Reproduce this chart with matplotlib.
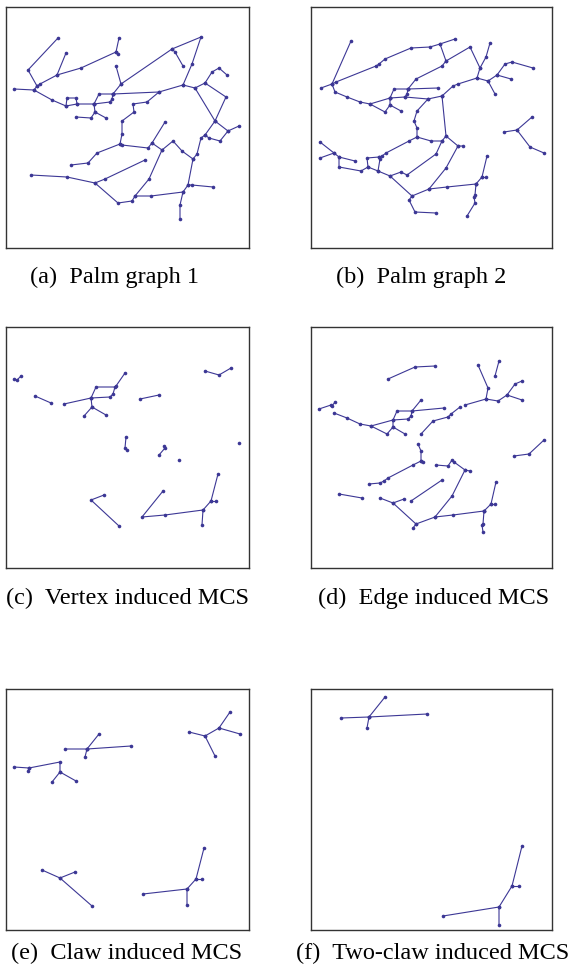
import matplotlib.pyplot as plt

# Graph layouts: each graph is a list of paths, consecutive points on a path
# are joined by an edge, every point is a vertex. Coordinates are layout units.
palm1 = [
    [(58, 38), (28, 70), (37, 86), (40, 84), (57, 75), (66, 53)],
    [(57, 75), (81, 68), (116, 52), (119, 38)],
    [(116, 52), (118, 54)],
    [(14, 89), (34, 90), (37, 86)],
    [(34, 90), (52, 100), (66, 106), (77, 104), (94, 104)],
    [(66, 106), (67, 98), (76, 98), (77, 104)],
    [(94, 104), (99, 94), (113, 94)],
    [(94, 104), (110, 102), (112, 99), (113, 94)],
    [(94, 104), (95, 112), (91, 118), (76, 117)],
    [(95, 112), (106, 118)],
    [(113, 94), (121, 84), (116, 66)],
    [(121, 84), (172, 49), (201, 37), (192, 64), (183, 85)],
    [(172, 49), (175, 52), (183, 66)],
    [(113, 94), (159, 92), (183, 85), (195, 88), (205, 83), (212, 72), (219, 68), (227, 75)],
    [(205, 83), (226, 97), (215, 121)],
    [(195, 88), (215, 121), (228, 131), (239, 126)],
    [(159, 92), (147, 102), (133, 104), (134, 112), (122, 121), (122, 134), (120, 144)],
    [(120, 144), (97, 153), (88, 163), (71, 165)],
    [(122, 145), (148, 148), (152, 143), (165, 122)],
    [(152, 143), (162, 150), (173, 141), (182, 151), (193, 159), (197, 154), (201, 138),
     (205, 135), (215, 121)],
    [(205, 135), (209, 138), (220, 141), (228, 131)],
    [(193, 159), (188, 185), (183, 192), (180, 205), (180, 219)],
    [(188, 185), (192, 185), (213, 187)],
    [(162, 150), (149, 179), (135, 196), (132, 201), (118, 203), (95, 183), (67, 177), (31, 175)],
    [(95, 183), (105, 179), (145, 160)],
    [(135, 196), (151, 196), (183, 192)],
]

palm2 = [
    [(351, 41), (332, 84), (321, 88)],
    [(332, 84), (336, 82), (376, 66), (379, 64), (385, 59), (411, 48), (430, 47), (440, 44), (455, 39)],
    [(440, 44), (446, 61), (470, 47), (480, 68), (486, 57), (490, 43)],
    [(446, 61), (442, 66), (416, 79), (408, 89)],
    [(332, 84), (335, 92), (347, 97), (360, 102), (370, 104), (390, 98)],
    [(370, 104), (385, 112), (390, 105), (390, 98)],
    [(390, 105), (401, 111)],
    [(390, 98), (394, 89), (408, 89), (438, 88)],
    [(408, 89), (407, 94), (405, 97)],
    [(390, 98), (405, 97), (428, 99), (442, 96)],
    [(442, 96), (453, 86), (458, 84), (477, 78), (488, 81), (497, 75), (505, 64), (512, 62), (533, 68)],
    [(497, 75), (511, 79)],
    [(488, 81), (495, 94)],
    [(477, 78), (480, 68)],
    [(428, 99), (417, 111), (414, 121), (417, 128), (417, 137), (431, 141), (442, 141), (446, 136),
     (442, 96)],
    [(446, 136), (458, 146), (463, 146)],
    [(417, 137), (409, 141), (386, 153), (382, 156), (379, 157), (367, 158), (368, 167), (378, 171),
     (380, 159), (379, 157)],
    [(368, 167), (361, 171), (339, 167), (339, 157), (334, 153), (320, 142)],
    [(339, 157), (355, 161)],
    [(334, 153), (320, 158)],
    [(378, 171), (390, 176), (401, 172), (407, 175), (436, 154), (442, 141)],
    [(390, 176), (412, 196), (429, 189), (447, 187), (476, 184)],
    [(412, 196), (409, 200), (415, 212), (436, 213)],
    [(429, 189), (446, 168), (458, 146)],
    [(476, 184), (482, 177), (487, 156)],
    [(482, 177), (486, 177)],
    [(476, 184), (475, 195), (474, 197), (475, 203), (467, 216)],
    [(532, 117), (517, 130), (504, 132)],
    [(517, 130), (530, 147), (544, 153)],
]

vertex_mcs = [
    [(14, 379), (17, 380), (21, 376)],
    [(35, 396), (51, 403)],
    [(64, 404), (91, 398), (110, 397), (113, 394), (115, 387), (96, 387), (91, 398)],
    [(116, 386), (125, 373)],
    [(91, 398), (92, 407), (84, 416)],
    [(92, 407), (106, 415)],
    [(140, 399), (159, 395)],
    [(205, 371), (219, 375), (231, 368)],
    [(126, 437), (125, 448), (127, 450)],
    [(164, 446), (165, 448), (159, 455)],
    [(179, 460)],
    [(239, 443)],
    [(104, 495), (91, 500), (119, 526)],
    [(163, 491), (142, 517), (165, 515), (203, 510), (202, 525)],
    [(203, 510), (211, 501), (218, 474)],
    [(211, 501), (216, 501)],
]

edge_mcs = [
    [(388, 379), (415, 367), (435, 366)],
    [(478, 365), (488, 388), (486, 399)],
    [(499, 361), (495, 376)],
    [(465, 405), (486, 399), (498, 401), (507, 395), (515, 384), (522, 381)],
    [(507, 395), (522, 400)],
    [(460, 407), (451, 414), (448, 417), (433, 421), (421, 434)],
    [(319, 409), (331, 405), (332, 406), (335, 402)],
    [(334, 413), (347, 418), (360, 424), (371, 426), (393, 420), (408, 419), (411, 416), (412, 411),
     (421, 400)],
    [(371, 426), (387, 434), (393, 427), (405, 434)],
    [(393, 427), (393, 420), (397, 411), (412, 411), (444, 408)],
    [(418, 444), (421, 451), (421, 461), (423, 462)],
    [(421, 461), (413, 465), (388, 478), (384, 481), (380, 483), (369, 484)],
    [(436, 465), (448, 466), (452, 460), (454, 462), (465, 470), (470, 471)],
    [(465, 470), (452, 496), (435, 517), (453, 515), (484, 511)],
    [(435, 517), (416, 524), (413, 528)],
    [(416, 524), (393, 503), (380, 498)],
    [(393, 503), (404, 499)],
    [(411, 501), (442, 480)],
    [(339, 494), (362, 498)],
    [(484, 511), (491, 504), (496, 482)],
    [(491, 504), (495, 504)],
    [(484, 511), (483, 524), (482, 525), (483, 532)],
    [(514, 456), (529, 454), (544, 440)],
]

claw_mcs = [
    [(14, 767), (29, 768), (60, 762), (60, 772), (52, 782)],
    [(29, 768), (28, 771)],
    [(60, 772), (76, 781)],
    [(65, 749), (87, 749), (131, 746)],
    [(87, 749), (99, 734)],
    [(87, 749), (85, 757)],
    [(189, 732), (205, 736), (219, 728), (230, 712)],
    [(219, 728), (240, 734)],
    [(205, 736), (215, 756)],
    [(42, 870), (60, 878), (75, 872)],
    [(60, 878), (92, 906)],
    [(143, 894), (187, 889), (187, 905)],
    [(187, 889), (196, 879), (204, 848)],
    [(196, 879), (202, 879)],
]

two_claw_mcs = [
    [(341, 718), (369, 717), (427, 714)],
    [(369, 717), (385, 697)],
    [(369, 717), (367, 728)],
    [(443, 916), (499, 907), (499, 925)],
    [(499, 907), (512, 886), (522, 846)],
    [(512, 886), (519, 886)],
]

graphs = [palm1, palm2, vertex_mcs, edge_mcs, claw_mcs, two_claw_mcs]
captions = ['(a)  Palm graph 1', '(b)  Palm graph 2',
            '(c)  Vertex induced MCS', '(d)  Edge induced MCS',
            '(e)  Claw induced MCS', '(f)  Two-claw induced MCS']

# figure layout in pixels
W, H = 570, 968
boxes = [(6, 7, 249, 248), (311, 7, 552, 248),
         (6, 327, 249, 568), (311, 327, 552, 568),
         (6, 689, 249, 930), (311, 689, 552, 930)]
cap_pos = [(115, 277), (421, 277), (128, 598), (434, 598), (127, 953), (433, 953)]

EDGE = '#3c3795'

fig = plt.figure(figsize=(W / 100, H / 100), dpi=100)
for graph, box, text, (cx, cy) in zip(graphs, boxes, captions, cap_pos):
    x0, y0, x1, y1 = box
    ax = fig.add_axes([x0 / W, 1 - y1 / H, (x1 - x0) / W, (y1 - y0) / H])
    for path in graph:
        xs = [p[0] for p in path]
        ys = [p[1] for p in path]
        ax.plot(xs, ys, color=EDGE, lw=0.8, marker='o', ms=2.6,
                markeredgewidth=0, solid_capstyle='round')
    ax.set_xlim(x0, x1)
    ax.set_ylim(y1, y0)
    ax.set_xticks([])
    ax.set_yticks([])
    for s in ax.spines.values():
        s.set_color('#333333')
        s.set_linewidth(1.0)
    fig.text(cx / W, 1 - cy / H, text, ha='center', va='center',
             fontsize=17.5, family='Liberation Serif')

fig.savefig('out.png', dpi=100)
